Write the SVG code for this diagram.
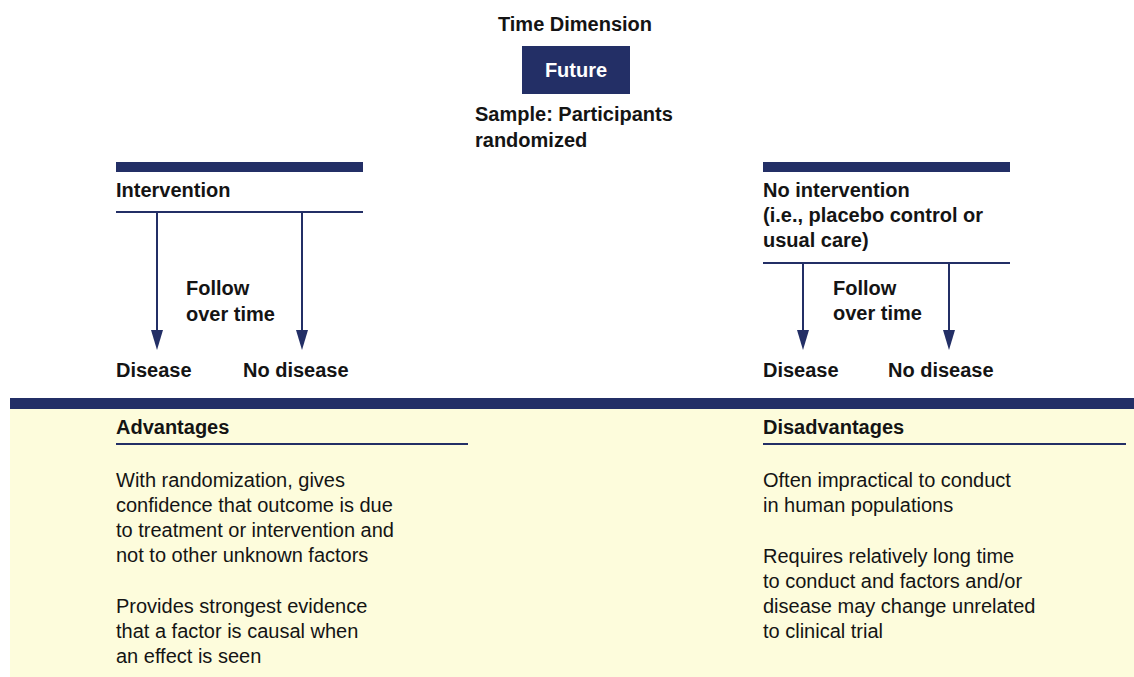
<svg xmlns="http://www.w3.org/2000/svg" width="1134" height="677" viewBox="0 0 1134 677">
  <style>
    text { font-family: "Liberation Sans", Arial, sans-serif; fill: #141414; }
    .b { font-weight: bold; font-size: 20px; }
    .r { font-size: 20px; }
    .navy { fill: #232f66; }
    .rule { stroke: #232f66; stroke-width: 2; fill: none; }
    .arrow { stroke: #232f66; stroke-width: 2; fill: none; }
  </style>

  <rect width="1134" height="677" fill="#ffffff"/>

  <!-- header -->
  <g id="header">
    <text class="b" x="575" y="31" text-anchor="middle">Time Dimension</text>
    <rect class="navy" x="522" y="46" width="108" height="48"/>
    <text class="b" x="576" y="77" text-anchor="middle" style="fill:#ffffff">Future</text>
    <text class="b" x="475" y="121">Sample: Participants</text>
    <text class="b" x="475" y="147">randomized</text>
  </g>

  <!-- intervention arm -->
  <g id="intervention">
    <rect class="navy" x="116" y="162" width="247" height="10"/>
    <text class="b" x="116" y="197">Intervention</text>
    <line class="rule" x1="116" y1="212" x2="363" y2="212"/>
    <text class="b" x="186" y="295">Follow</text>
    <text class="b" x="186" y="321">over time</text>
    <text class="b" x="116" y="377">Disease</text>
    <text class="b" x="243" y="377">No disease</text>
  </g>

  <!-- control arm -->
  <g id="no-intervention">
    <rect class="navy" x="763" y="162" width="247" height="10"/>
    <text class="b" x="763" y="197">No intervention</text>
    <text class="b" x="763" y="222">(i.e., placebo control or</text>
    <text class="b" x="763" y="247">usual care)</text>
    <line class="rule" x1="763" y1="263" x2="1010" y2="263"/>
    <text class="b" x="833" y="295">Follow</text>
    <text class="b" x="833" y="320">over time</text>
    <text class="b" x="763" y="377">Disease</text>
    <text class="b" x="888" y="377">No disease</text>
  </g>

  <!-- follow-up arrows -->
  <g id="connectors">
    <path d="M157,212 V332" class="arrow"/>
    <path d="M151,330 L163,330 L157,350 Z" class="navy"/>
    <path d="M302,212 V332" class="arrow"/>
    <path d="M296,330 L308,330 L302,350 Z" class="navy"/>
    <path d="M803,263 V332" class="arrow"/>
    <path d="M797,330 L809,330 L803,350 Z" class="navy"/>
    <path d="M949,263 V332" class="arrow"/>
    <path d="M943,330 L955,330 L949,350 Z" class="navy"/>
  </g>

  <!-- summary panel -->
  <g id="summary">
    <rect x="10" y="409" width="1124" height="268" fill="#fdfcdc"/>
    <rect class="navy" x="10" y="398" width="1124" height="11"/>
  </g>

  <g id="advantages">
    <text class="b" x="116" y="434">Advantages</text>
    <line class="rule" x1="116" y1="444" x2="468" y2="444"/>
    <text class="r" x="116" y="487">With randomization, gives</text>
    <text class="r" x="116" y="512">confidence that outcome is due</text>
    <text class="r" x="116" y="537">to treatment or intervention and</text>
    <text class="r" x="116" y="562">not to other unknown factors</text>
    <text class="r" x="116" y="613">Provides strongest evidence</text>
    <text class="r" x="116" y="638">that a factor is causal when</text>
    <text class="r" x="116" y="663">an effect is seen</text>
  </g>

  <g id="disadvantages">
    <text class="b" x="763" y="434">Disadvantages</text>
    <line class="rule" x1="763" y1="444" x2="1126" y2="444"/>
    <text class="r" x="763" y="487">Often impractical to conduct</text>
    <text class="r" x="763" y="512">in human populations</text>
    <text class="r" x="763" y="563">Requires relatively long time</text>
    <text class="r" x="763" y="588">to conduct and factors and/or</text>
    <text class="r" x="763" y="613">disease may change unrelated</text>
    <text class="r" x="763" y="638">to clinical trial</text>
  </g>
</svg>
